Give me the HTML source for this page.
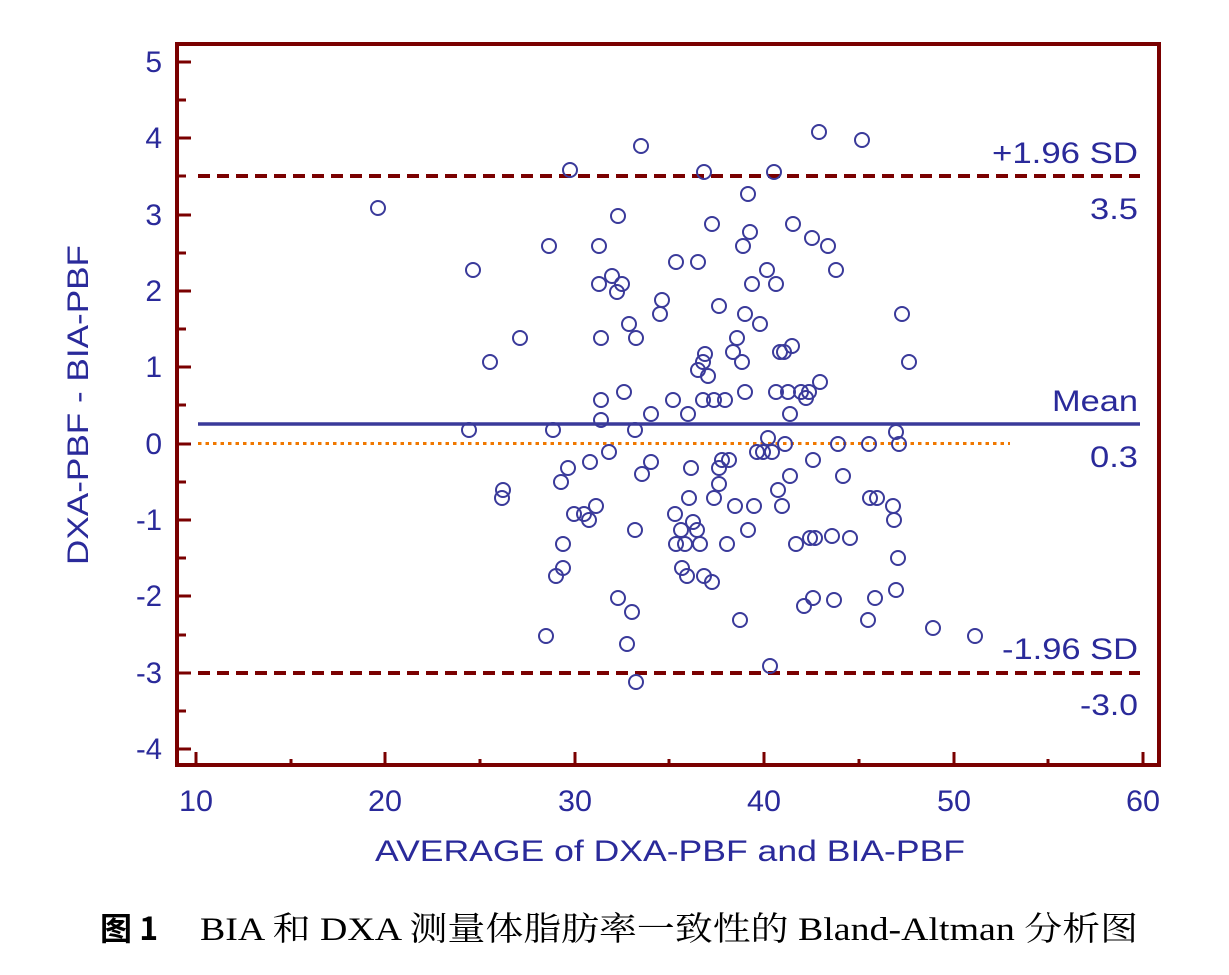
<!DOCTYPE html>
<html><head><meta charset="utf-8"><style>
html,body{margin:0;padding:0;background:#fff;}
svg{display:block;}
</style></head><body>
<svg width="1229" height="975" viewBox="0 0 1229 975" xmlns="http://www.w3.org/2000/svg">
<g font-family="Liberation Sans, sans-serif" fill="#2a2a9a" font-size="30" lengthAdjust="spacingAndGlyphs">
<text x="162" y="72" text-anchor="end">5</text>
<text x="162" y="148" text-anchor="end">4</text>
<text x="162" y="225" text-anchor="end">3</text>
<text x="162" y="301" text-anchor="end">2</text>
<text x="162" y="377" text-anchor="end">1</text>
<text x="162" y="454" text-anchor="end">0</text>
<text x="162" y="530" text-anchor="end" textLength="26" lengthAdjust="spacingAndGlyphs">-1</text>
<text x="162" y="606" text-anchor="end" textLength="26" lengthAdjust="spacingAndGlyphs">-2</text>
<text x="162" y="683" text-anchor="end" textLength="26" lengthAdjust="spacingAndGlyphs">-3</text>
<text x="162" y="759" text-anchor="end" textLength="26" lengthAdjust="spacingAndGlyphs">-4</text>
<text x="179" y="811" textLength="34" lengthAdjust="spacingAndGlyphs">10</text>
<text x="368" y="811" textLength="34" lengthAdjust="spacingAndGlyphs">20</text>
<text x="558" y="811" textLength="34" lengthAdjust="spacingAndGlyphs">30</text>
<text x="747" y="811" textLength="34" lengthAdjust="spacingAndGlyphs">40</text>
<text x="937" y="811" textLength="34" lengthAdjust="spacingAndGlyphs">50</text>
<text x="1126" y="811" textLength="34" lengthAdjust="spacingAndGlyphs">60</text>
<text x="375" y="861" textLength="590" lengthAdjust="spacingAndGlyphs">AVERAGE of DXA-PBF and BIA-PBF</text>
<text transform="translate(88,565) rotate(-90)" textLength="320" lengthAdjust="spacingAndGlyphs">DXA-PBF - BIA-PBF</text>
<text x="992" y="163" textLength="146" lengthAdjust="spacingAndGlyphs">+1.96 SD</text>
<text x="1090" y="219" textLength="48" lengthAdjust="spacingAndGlyphs">3.5</text>
<text x="1052" y="411" textLength="86" lengthAdjust="spacingAndGlyphs">Mean</text>
<text x="1090" y="467" textLength="48" lengthAdjust="spacingAndGlyphs">0.3</text>
<text x="1002" y="659" textLength="136" lengthAdjust="spacingAndGlyphs">-1.96 SD</text>
<text x="1080" y="715" textLength="58" lengthAdjust="spacingAndGlyphs">-3.0</text>
</g>
<line x1="198" y1="176" x2="1140" y2="176" stroke="#7a0000" stroke-width="4" stroke-dasharray="12,7"/>
<line x1="198" y1="673" x2="1140" y2="673" stroke="#7a0000" stroke-width="4" stroke-dasharray="12,7"/>
<line x1="198" y1="424" x2="1140" y2="424" stroke="#3a3a9a" stroke-width="3.5"/>
<line x1="198" y1="443.5" x2="1010" y2="443.5" stroke="#f07800" stroke-width="3" stroke-dasharray="3.5,4"/>
<rect x="177" y="44" width="982" height="721" fill="none" stroke="#7a0000" stroke-width="4"/>
<g stroke="#7a0000" stroke-width="3">
<path d="M177 62h14M177 100h9M177 138h14M177 176h9M177 215h14M177 253h9M177 291h14M177 329h9M177 367h14M177 405h9M177 444h14M177 482h9M177 520h14M177 558h9M177 596h14M177 635h9M177 673h14M177 711h9M177 749h14"/>
<path d="M196 765v-13M291 765v-6M385 765v-13M480 765v-6M575 765v-13M669 765v-6M764 765v-13M859 765v-6M954 765v-13M1048 765v-6M1143 765v-13"/>
</g>
<text x="100" y="940" font-family="Noto Sans CJK SC, sans-serif" font-size="32" font-weight="bold" fill="#000">图 1</text>
<text x="200" y="940" font-family="Liberation Serif, Noto Serif CJK SC, serif" font-size="33" fill="#000" textLength="938" lengthAdjust="spacingAndGlyphs">BIA 和 DXA 测量体脂肪率一致性的 Bland-Altman 分析图</text>
<g fill="none" stroke="#3a3a9a" stroke-width="2">
<circle cx="378" cy="208" r="7"/><circle cx="473" cy="270" r="7"/><circle cx="490" cy="362" r="7"/><circle cx="469" cy="430" r="7"/><circle cx="503" cy="490" r="7"/><circle cx="502" cy="498" r="7"/><circle cx="520" cy="338" r="7"/><circle cx="549" cy="246" r="7"/><circle cx="553" cy="430" r="7"/><circle cx="546" cy="636" r="7"/><circle cx="556" cy="576" r="7"/><circle cx="563" cy="568" r="7"/><circle cx="563" cy="544" r="7"/><circle cx="561" cy="482" r="7"/><circle cx="568" cy="468" r="7"/><circle cx="570" cy="170" r="7"/><circle cx="574" cy="514" r="7"/><circle cx="584" cy="514" r="7"/><circle cx="590" cy="462" r="7"/><circle cx="589" cy="520" r="7"/><circle cx="596" cy="506" r="7"/><circle cx="599" cy="246" r="7"/><circle cx="599" cy="284" r="7"/><circle cx="601" cy="338" r="7"/><circle cx="601" cy="400" r="7"/><circle cx="601" cy="420" r="7"/><circle cx="609" cy="452" r="7"/><circle cx="612" cy="276" r="7"/><circle cx="617" cy="292" r="7"/><circle cx="618" cy="216" r="7"/><circle cx="622" cy="284" r="7"/><circle cx="624" cy="392" r="7"/><circle cx="629" cy="324" r="7"/><circle cx="636" cy="338" r="7"/><circle cx="635" cy="430" r="7"/><circle cx="642" cy="474" r="7"/><circle cx="651" cy="462" r="7"/><circle cx="651" cy="414" r="7"/><circle cx="635" cy="530" r="7"/><circle cx="618" cy="598" r="7"/><circle cx="632" cy="612" r="7"/><circle cx="627" cy="644" r="7"/><circle cx="636" cy="682" r="7"/><circle cx="641" cy="146" r="7"/><circle cx="662" cy="300" r="7"/><circle cx="660" cy="314" r="7"/><circle cx="673" cy="400" r="7"/><circle cx="676" cy="262" r="7"/><circle cx="675" cy="514" r="7"/><circle cx="676" cy="544" r="7"/><circle cx="681" cy="530" r="7"/><circle cx="682" cy="568" r="7"/><circle cx="685" cy="544" r="7"/><circle cx="687" cy="576" r="7"/><circle cx="688" cy="414" r="7"/><circle cx="691" cy="468" r="7"/><circle cx="689" cy="498" r="7"/><circle cx="693" cy="522" r="7"/><circle cx="698" cy="262" r="7"/><circle cx="698" cy="370" r="7"/><circle cx="697" cy="530" r="7"/><circle cx="700" cy="544" r="7"/><circle cx="703" cy="362" r="7"/><circle cx="705" cy="354" r="7"/><circle cx="703" cy="400" r="7"/><circle cx="708" cy="376" r="7"/><circle cx="704" cy="172" r="7"/><circle cx="704" cy="576" r="7"/><circle cx="712" cy="582" r="7"/><circle cx="712" cy="224" r="7"/><circle cx="714" cy="400" r="7"/><circle cx="714" cy="498" r="7"/><circle cx="719" cy="484" r="7"/><circle cx="719" cy="468" r="7"/><circle cx="719" cy="306" r="7"/><circle cx="722" cy="460" r="7"/><circle cx="725" cy="400" r="7"/><circle cx="727" cy="544" r="7"/><circle cx="729" cy="460" r="7"/><circle cx="733" cy="352" r="7"/><circle cx="735" cy="506" r="7"/><circle cx="737" cy="338" r="7"/><circle cx="740" cy="620" r="7"/><circle cx="742" cy="362" r="7"/><circle cx="743" cy="246" r="7"/><circle cx="745" cy="392" r="7"/><circle cx="745" cy="314" r="7"/><circle cx="748" cy="194" r="7"/><circle cx="748" cy="530" r="7"/><circle cx="750" cy="232" r="7"/><circle cx="752" cy="284" r="7"/><circle cx="754" cy="506" r="7"/><circle cx="757" cy="452" r="7"/><circle cx="760" cy="324" r="7"/><circle cx="763" cy="452" r="7"/><circle cx="768" cy="438" r="7"/><circle cx="767" cy="270" r="7"/><circle cx="772" cy="452" r="7"/><circle cx="770" cy="666" r="7"/><circle cx="774" cy="172" r="7"/><circle cx="776" cy="392" r="7"/><circle cx="776" cy="284" r="7"/><circle cx="778" cy="490" r="7"/><circle cx="780" cy="352" r="7"/><circle cx="782" cy="506" r="7"/><circle cx="784" cy="352" r="7"/><circle cx="785" cy="444" r="7"/><circle cx="788" cy="392" r="7"/><circle cx="790" cy="476" r="7"/><circle cx="792" cy="346" r="7"/><circle cx="790" cy="414" r="7"/><circle cx="793" cy="224" r="7"/><circle cx="796" cy="544" r="7"/><circle cx="801" cy="392" r="7"/><circle cx="804" cy="606" r="7"/><circle cx="806" cy="398" r="7"/><circle cx="809" cy="392" r="7"/><circle cx="810" cy="538" r="7"/><circle cx="813" cy="598" r="7"/><circle cx="813" cy="460" r="7"/><circle cx="815" cy="538" r="7"/><circle cx="819" cy="132" r="7"/><circle cx="820" cy="382" r="7"/><circle cx="812" cy="238" r="7"/><circle cx="828" cy="246" r="7"/><circle cx="832" cy="536" r="7"/><circle cx="834" cy="600" r="7"/><circle cx="836" cy="270" r="7"/><circle cx="838" cy="444" r="7"/><circle cx="843" cy="476" r="7"/><circle cx="850" cy="538" r="7"/><circle cx="862" cy="140" r="7"/><circle cx="869" cy="444" r="7"/><circle cx="868" cy="620" r="7"/><circle cx="870" cy="498" r="7"/><circle cx="877" cy="498" r="7"/><circle cx="875" cy="598" r="7"/><circle cx="893" cy="506" r="7"/><circle cx="894" cy="520" r="7"/><circle cx="896" cy="590" r="7"/><circle cx="896" cy="432" r="7"/><circle cx="899" cy="444" r="7"/><circle cx="898" cy="558" r="7"/><circle cx="902" cy="314" r="7"/><circle cx="909" cy="362" r="7"/><circle cx="933" cy="628" r="7"/><circle cx="975" cy="636" r="7"/>
</g>
</svg>
</body></html>
